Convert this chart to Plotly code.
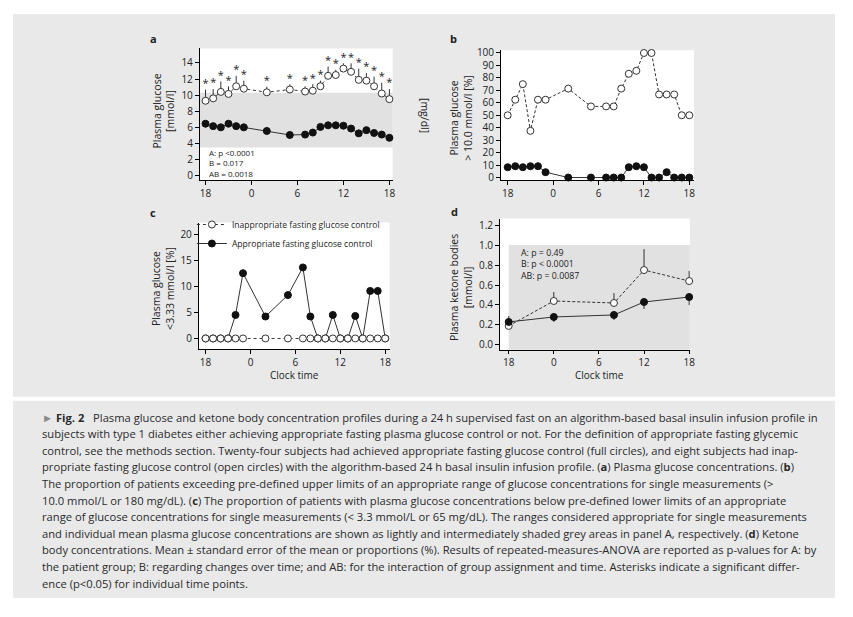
import plotly.graph_objects as go

W, H = 853, 617
OFF = 8  # default page body margin of the written html
FW, FH = W - 2 * OFF, H - 2 * OFF

# ---------------- data ----------------
# time in hours since 18:00 on day 1
times = [0, 1, 2, 3, 4, 5, 8, 11, 13, 14, 15, 16, 17, 18, 19, 20, 21, 22, 23, 24]
tick_vals = [0, 6, 12, 18, 24]
tick_text = ["18", "0", "6", "12", "18"]

# panel a: plasma glucose (mmol/l)
glucose_open = [9.3, 9.6, 10.4, 10.15, 11.1, 10.8, 10.35, 10.7, 10.45, 10.55,
                11.1, 12.4, 12.5, 13.3, 12.9, 11.9, 11.8, 11.1, 10.2, 9.5]
glucose_open_se = [1.4, 1.15, 1.3, 0.95, 1.3, 1.0, 0.7, 0.65, 0.65, 0.8,
                   0.7, 1.15, 0.65, 0.65, 1.05, 1.4, 0.95, 1.2, 1.35, 1.25]
glucose_full = [6.45, 6.15, 6.0, 6.45, 6.15, 6.0, 5.55, 5.05, 5.1, 5.35,
                6.05, 6.25, 6.25, 6.2, 5.85, 5.25, 5.65, 5.3, 5.1, 4.7]
glucose_full_se = [0.45, 0.4, 0.45, 0.35, 0.4, 0.4, 0.3, 0.25, 0.3, 0.3,
                   0.35, 0.35, 0.35, 0.35, 0.3, 0.3, 0.3, 0.3, 0.3, 0.3]
significant = ["*"] * 20
glucose_band = [3.5, 10.3]          # shaded appropriate range (mmol/l)
mmol_to_mgdl = 18.0

# panel b: % > 10.0 mmol/l
above_open = [50, 62.5, 75, 37.5, 62.5, 62.5, 71.4, 57.1, 57.1, 57.1,
              71.4, 83.3, 85.7, 100, 100, 66.7, 66.7, 66.7, 50, 50]
above_full = [8.3, 9.1, 8.3, 9.1, 9.1, 4.3, 0, 0, 0, 0,
              0, 8.3, 9.1, 8.3, 0, 0, 4.3, 0, 0, 0]

# panel c: % < 3.33 mmol/l
below_open = [0, 0, 0, 0, 0, 0, 0, 0, 0, 0, 0, 0, 0, 0, 0, 0, 0, 0, 0, 0]
below_full = [0, 0, 0, 0, 4.5, 12.5, 4.2, 8.3, 13.6, 4.2,
              0, 0, 4.5, 0, 0, 4.3, 0, 9.1, 9.1, 0]

# panel d: ketone bodies (mmol/l)
times_d = [0, 6, 14, 18, 24]
ketone_open = [0.19, 0.44, 0.42, 0.75, 0.64]
ketone_open_se = [0.1, 0.09, 0.1, 0.21, 0.1]
ketone_full = [0.23, 0.28, 0.30, 0.43, 0.48]
ketone_full_se = [0.03, 0.05, 0.05, 0.07, 0.08]
ketone_band = [1.0]

stats_a = ["A: p <0.0001", "B = 0.017", "AB = 0.0018"]
stats_d = ["A: p = 0.49", "B: p < 0.0001", "AB: p = 0.0087"]

caption_lines = [
    "<span style='color:#8a8a8a'>►</span> <b>Fig. 2</b>   Plasma glucose and ketone body concentration profiles during a 24 h supervised fast on an algorithm-based basal insulin infusion profile in",
    "subjects with type 1 diabetes either achieving appropriate fasting plasma glucose control or not. For the definition of appropriate fasting glycemic",
    "control, see the methods section. Twenty-four subjects had achieved appropriate fasting glucose control (full circles), and eight subjects had inap-",
    "propriate fasting glucose control (open circles) with the algorithm-based 24 h basal insulin infusion profile. (<b>a</b>) Plasma glucose concentrations. (<b>b</b>)",
    "The proportion of patients exceeding pre-defined upper limits of an appropriate range of glucose concentrations for single measurements (>",
    "10.0 mmol/L or 180 mg/dL). (<b>c</b>) The proportion of patients with plasma glucose concentrations below pre-defined lower limits of an appropriate",
    "range of glucose concentrations for single measurements (< 3.3 mmol/L or 65 mg/dL). The ranges considered appropriate for single measurements",
    "and individual mean plasma glucose concentrations are shown as lightly and intermediately shaded grey areas in panel A, respectively. (<b>d</b>) Ketone",
    "body concentrations. Mean ± standard error of the mean or proportions (%). Results of repeated-measures-ANOVA are reported as p-values for A: by",
    "the patient group; B: regarding changes over time; and AB: for the interaction of group assignment and time. Asterisks indicate a significant differ-",
    "ence (p<0.05) for individual time points.",
]

# ---------------- style ----------------
FONT = "Open Sans"
INK = "#222222"
LINE = "#333333"
FIG_BG = "#e9e9ea"
BAND = "#e1e1e2"


def px(x):
    return (x - OFF) / FW


def py(y):
    return 1 - (y - OFF) / FH


open_marker = dict(symbol="circle", size=7, color="white", line=dict(color=LINE, width=1))
full_marker = dict(symbol="circle", size=7, color="#111111", line=dict(color="#111111", width=1))

fig = go.Figure()

# ---- panel a ----
fig.add_trace(go.Scatter(
    x=times, y=glucose_full, mode="lines+markers", xaxis="x", yaxis="y", cliponaxis=False,
    line=dict(color=LINE, width=1), marker=full_marker, showlegend=False,
    error_y=dict(type="data", symmetric=False, array=[0] * 20, arrayminus=glucose_full_se,
                 color=LINE, thickness=1, width=0)))
fig.add_trace(go.Scatter(
    x=times, y=glucose_open, mode="lines+markers", xaxis="x", yaxis="y", cliponaxis=False,
    line=dict(color=LINE, width=1, dash="dot"), marker=open_marker, showlegend=False,
    error_y=dict(type="data", symmetric=False, array=glucose_open_se, arrayminus=[0] * 20,
                 color=LINE, thickness=1, width=0)))
fig.add_trace(go.Scatter(
    x=times, y=[v + e for v, e in zip(glucose_open, glucose_open_se)], mode="text",
    text=significant, textposition="top center", xaxis="x", yaxis="y", cliponaxis=False,
    textfont=dict(family=FONT, size=11, color=INK), showlegend=False, hoverinfo="skip"))

# ---- panel b ----
fig.add_trace(go.Scatter(
    x=times, y=above_full, mode="lines+markers", xaxis="x2", yaxis="y2", cliponaxis=False,
    line=dict(color=LINE, width=1), marker=full_marker, showlegend=False))
fig.add_trace(go.Scatter(
    x=times, y=above_open, mode="lines+markers", xaxis="x2", yaxis="y2", cliponaxis=False,
    line=dict(color=LINE, width=1, dash="3px,2px"), marker=open_marker, showlegend=False))

# ---- panel c ----
fig.add_trace(go.Scatter(
    x=times, y=below_full, mode="lines+markers", xaxis="x3", yaxis="y3", cliponaxis=False,
    name="Appropriate fasting glucose control", legendrank=2,
    line=dict(color=LINE, width=1), marker=full_marker))
fig.add_trace(go.Scatter(
    x=times, y=below_open, mode="lines+markers", xaxis="x3", yaxis="y3", cliponaxis=False,
    name="Inappropriate fasting glucose control", legendrank=1,
    line=dict(color=LINE, width=1, dash="dot"), marker=open_marker))

# ---- panel d ----
fig.add_trace(go.Scatter(
    x=times_d, y=ketone_open, mode="lines+markers", xaxis="x4", yaxis="y4", cliponaxis=False,
    line=dict(color=LINE, width=1, dash="3px,2px"), marker=open_marker, showlegend=False,
    error_y=dict(type="data", symmetric=False, array=ketone_open_se, arrayminus=[0] * 5,
                 color=LINE, thickness=1, width=0)))
fig.add_trace(go.Scatter(
    x=times_d, y=ketone_full, mode="lines+markers", xaxis="x4", yaxis="y4", cliponaxis=False,
    line=dict(color=LINE, width=1), marker=full_marker, showlegend=False,
    error_y=dict(type="data", symmetric=False, array=[0] * 5, arrayminus=ketone_full_se,
                 color=LINE, thickness=1, width=0)))

# ---------------- axes ----------------
tickfont = dict(family=FONT, size=10, color=INK)


def xax(domain, rng, anchor):
    return dict(domain=domain, range=rng, anchor=anchor, tickvals=tick_vals, ticktext=tick_text,
                showline=True, linecolor="black", linewidth=1, ticks="outside", ticklen=4,
                tickwidth=1, tickcolor="black", showgrid=False, zeroline=False, tickfont=tickfont)


def yax(domain, rng, anchor, tv, tt=None):
    d = dict(domain=domain, range=rng, anchor=anchor, tickvals=tv,
             showline=True, linecolor="black", linewidth=1, ticks="outside", ticklen=4,
             tickwidth=1, tickcolor="black", showgrid=False, zeroline=False, tickfont=tickfont)
    if tt is not None:
        d["ticktext"] = tt
    return d


a_range = [-0.6, 15.8]
fig.update_layout(
    xaxis=xax([px(201), px(395)], [-0.74, 24.43], "y"),
    yaxis=yax([py(178), py(44)], a_range, "x", [0, 2, 4, 6, 8, 10, 12, 14]),
    yaxis5=dict(overlaying="y", side="right", anchor="x", range=[a_range[0] * mmol_to_mgdl, a_range[1] * mmol_to_mgdl],
                tickvals=[0, 50, 100, 150, 200, 250], showline=True, linecolor="black", linewidth=1,
                ticks="outside", ticklen=4, tickwidth=1, tickcolor="black", showgrid=False,
                zeroline=False, tickfont=tickfont),
    xaxis2=xax([px(504), px(698)], [-0.88, 24.6], "y2"),
    yaxis2=yax([py(177.7), py(45.7)], [-2.1, 102.3], "x2", list(range(0, 101, 10))),
    xaxis3=xax([px(200), px(392)], [-0.9, 24.6], "y3"),
    yaxis3=yax([py(349), py(220.7)], [-2.0, 22.2], "x3", [0, 5, 10, 15, 20]),
    xaxis4=xax([px(503), px(694)], [-1.15, 24.1], "y4"),
    yaxis4=yax([py(350), py(216.7)], [-0.05, 1.266], "x4", [0, 0.2, 0.4, 0.6, 0.8, 1.0, 1.2],
               ["0.0", "0.2", "0.4", "0.6", "0.8", "1.0", "1.2"]),
)
fig.layout.xaxis4.ticklen = 3

# ---------------- shapes ----------------
shapes = [
    dict(type="rect", xref="paper", yref="paper", x0=px(13), x1=px(840), y0=py(397.5), y1=py(9),
         fillcolor=FIG_BG, line=dict(width=0), layer="below"),
    dict(type="rect", xref="paper", yref="paper", x0=px(13), x1=px(840), y0=py(602), y1=py(401.7),
         fillcolor=FIG_BG, line=dict(width=0), layer="below"),
]
# white plot backgrounds
for (x0, x1, y0, y1) in [(201, 395, 44, 178), (504, 698, 45.7, 177.7), (200, 392, 220.7, 349), (503, 694, 216.7, 350)]:
    shapes.append(dict(type="rect", xref="paper", yref="paper", x0=px(x0), x1=px(x1), y0=py(y1), y1=py(y0),
                       fillcolor="white", line=dict(width=0), layer="below"))
shapes.append(dict(type="rect", xref="x domain", yref="y", x0=0, x1=1, y0=glucose_band[0], y1=glucose_band[1],
                   fillcolor=BAND, line=dict(width=0), layer="below"))
shapes.append(dict(type="rect", xref="x4", yref="y4", x0=0, x1=24.1, y0=-0.05, y1=ketone_band[0],
                   fillcolor=BAND, line=dict(width=0), layer="below"))
fig.update_layout(shapes=shapes)

# ---------------- annotations ----------------
ann = []


def txt(x, y, s, size=10.5, angle=0, anchor="center", bold=False, align="center"):
    ann.append(dict(xref="paper", yref="paper", x=px(x), y=py(y), text=(f"<b>{s}</b>" if bold else s),
                    showarrow=False, xanchor=anchor, yanchor="middle", textangle=angle, align=align,
                    font=dict(family=FONT, size=size, color=INK)))


for lab, (x, y) in zip(["a", "b", "c", "d"], [(154, 34), (456, 34), (154, 211), (457, 210)]):
    txt(x, y, lab, size=11, bold=True)

txt(164, 108, "Plasma glucose<br>[mmol/l]", angle=-90)
txt(427, 112, "[mg/dl]", angle=90)
txt(464, 115, "Plasma glucose<br>> 10.0 mmol/l [%]", angle=-90)
txt(164, 288, "Plasma glucose<br><3.33 mmol/l [%]", angle=-90)
txt(464, 287, "Plasma ketone bodies<br>[mmol/l]", angle=-90)
txt(296, 375.5, "Clock time", size=10)
txt(603, 375.5, "Clock time", size=10)

txt(208, 160.5, "<br>".join(stats_a), size=8, anchor="left", align="left")
txt(522, 263, "<br>".join(stats_d), size=8.8, anchor="left", align="left")

for i, line in enumerate(caption_lines):
    ann.append(dict(xref="paper", yref="paper", x=px(40), y=py(418.3 + i * 16.84), text=line,
                    showarrow=False, xanchor="left", yanchor="middle",
                    font=dict(family=FONT, size=11.2, color="#2a2a2a")))

fig.update_layout(annotations=ann)

fig.update_layout(
    width=FW, height=FH, margin=dict(l=0, r=0, t=0, b=0),
    paper_bgcolor="white", plot_bgcolor="rgba(0,0,0,0)",
    font=dict(family=FONT, color=INK),
    legend=dict(x=px(193), y=py(208), xanchor="left", yanchor="top", bgcolor="rgba(0,0,0,0)",
                font=dict(family=FONT, size=8.6, color=INK), itemwidth=30, tracegroupgap=0),
    showlegend=True,
)

fig.write_html("out.html")
